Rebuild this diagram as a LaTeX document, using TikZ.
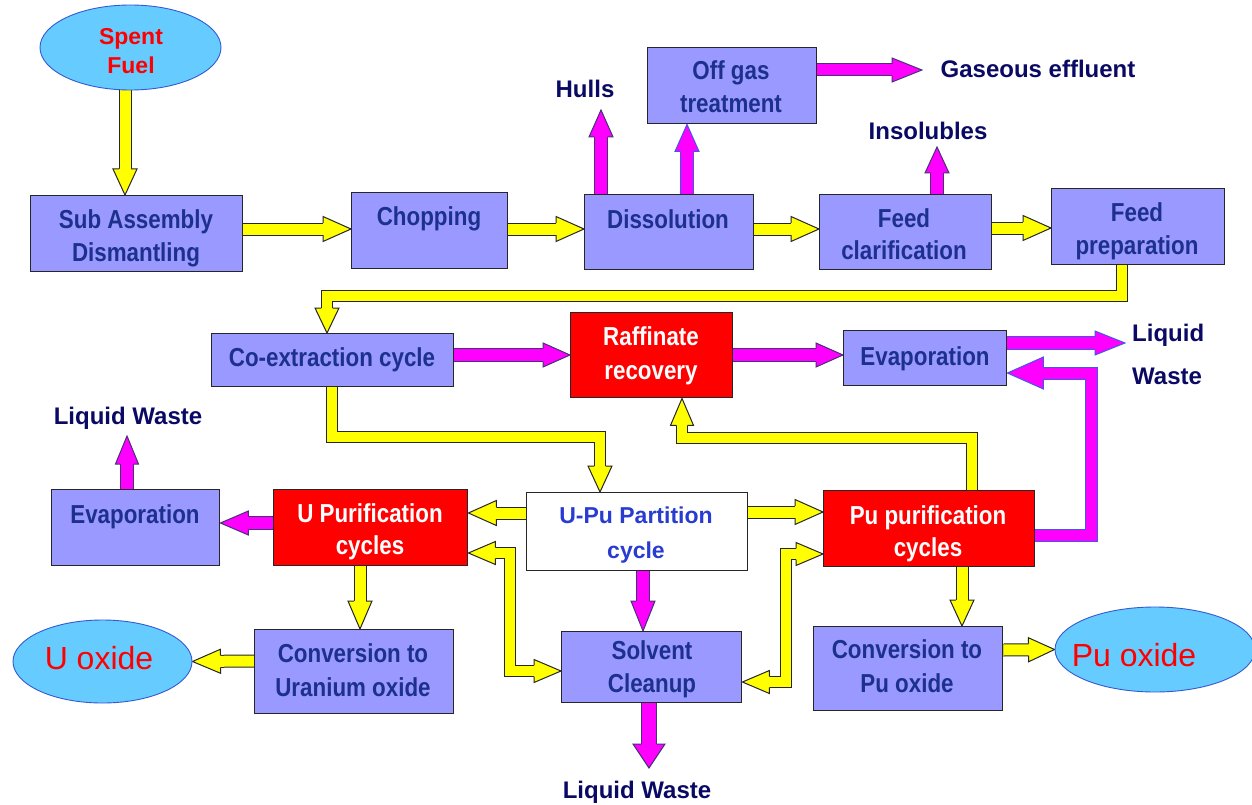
\documentclass[tikz,border=0pt]{standalone}
\usepackage{fontspec}
\setmainfont{Liberation Sans}
\newfontfamily\nar[FakeStretch=0.86]{Liberation Sans}
\usetikzlibrary{shapes.geometric,decorations.markings}
\definecolor{boxfill}{RGB}{153,153,255}
\definecolor{boxedge}{RGB}{38,38,38}
\definecolor{boxtext}{RGB}{28,48,140}
\definecolor{labtext}{RGB}{10,10,100}
\definecolor{uputext}{RGB}{40,60,210}
\definecolor{ellfill}{RGB}{102,204,255}
\definecolor{elledge}{RGB}{50,90,210}
\definecolor{ylw}{RGB}{255,255,0}
\definecolor{mgt}{RGB}{255,0,255}
\definecolor{mgedge}{RGB}{70,50,120}
\definecolor{mgblue}{RGB}{60,90,230}
\definecolor{redbox}{RGB}{255,0,0}
\pgfdeclarelayer{bg}
\pgfsetlayers{bg,main}

% head pointing along +x, apex at origin
\newcommand\bhead[4]{%
  \fill[#1] (0pt,0pt) -- (-#4pt,#3pt) -- (-#4pt,-#3pt) -- cycle;
  \draw[#2, line width=1pt, line join=miter] (-#4pt,\bhs pt) -- (-#4pt,#3pt) -- (0pt,0pt) -- (-#4pt,-#3pt) -- (-#4pt,-\bhs pt);}
% #1 fill, #2 edge, #3 shaft width, #4 half head width, #5 head length, #6 path
\newcommand\barrow[6]{%
  \pgfmathsetmacro\bwo{#3+2}%
  \pgfmathsetmacro\bsho{#5-2}%
  \pgfmathsetmacro\bshi{#5-3}%
  \pgfmathsetmacro\bhs{#3/2+0.6}%
  \draw[line width=\bwo pt, draw=#2, line join=miter, shorten >=\bsho pt] #6;
  \draw[line width=#3pt, draw=#1, line join=miter, shorten >=\bshi pt] #6;
  \path[decorate, decoration={markings, mark=at position 1 with {\bhead{#1}{#2}{#4}{#5}}}] #6;
}
\newcommand\dbarrow[6]{%
  \pgfmathsetmacro\bwo{#3+2}%
  \pgfmathsetmacro\bsho{#5-2}%
  \pgfmathsetmacro\bshi{#5-3}%
  \pgfmathsetmacro\bhs{#3/2+0.6}%
  \draw[line width=\bwo pt, draw=#2, line join=miter, shorten >=\bsho pt, shorten <=\bsho pt] #6;
  \draw[line width=#3pt, draw=#1, line join=miter, shorten >=\bshi pt, shorten <=\bshi pt] #6;
  \path[decorate, decoration={markings,
     mark=at position 0 with {\begin{scope}[xscale=-1]\bhead{#1}{#2}{#4}{#5}\end{scope}},
     mark=at position 1 with {\bhead{#1}{#2}{#4}{#5}}}] #6;
}
\newcommand\mkbox[6]{\node[#2, minimum width=#5pt-#3pt, minimum height=#6pt-#4pt] (#1) at (#3,#4) {};}

\begin{document}
\begin{tikzpicture}[x=1pt,y=-1pt,
  proc/.style={draw=boxedge, line width=1.4pt, fill=boxfill, rectangle, inner sep=0pt, anchor=north west},
  hot/.style={proc, fill=redbox},
  plain/.style={proc, fill=white},
  oval/.style={ellipse, draw=elledge, line width=0.9pt, fill=ellfill, inner sep=0pt},
  btxt/.style={text=boxtext, font=\nar\bfseries\fontsize{26}{33}\selectfont, align=center, inner sep=0pt},
  wtxt/.style={btxt, text=white},
  lab/.style={text=labtext, font=\bfseries\fontsize{24}{28}\selectfont, inner sep=0pt},
]
\useasboundingbox (0,0) rectangle (1252,805);
\begin{pgfonlayer}{bg}
\fill[white] (0,0) rectangle (1252,805);
\end{pgfonlayer}

% ellipses
\node[oval, minimum width=181pt, minimum height=85pt] (sf) at (130.5,47.5) {};
\node[oval, minimum width=179pt, minimum height=83pt] (uo) at (102.5,661.5) {};
\node[oval, minimum width=200pt, minimum height=85pt] (po) at (1155,649.5) {};

% boxes
\mkbox{sa}{proc}{30}{195}{242}{271}
\mkbox{ch}{proc}{351}{192}{507}{268}
\mkbox{di}{proc}{584}{194}{753}{269}
\mkbox{og}{proc}{647}{47}{816}{123}
\mkbox{fc}{proc}{819}{194}{991}{269}
\mkbox{fp}{proc}{1051}{188}{1224}{264}
\mkbox{co}{proc}{211}{333}{453}{386}
\mkbox{rr}{hot}{570}{312}{732}{397}
\mkbox{ev1}{proc}{843}{330}{1006}{385}
\mkbox{ev2}{proc}{51}{489}{219}{565}
\mkbox{upur}{hot}{273}{489}{467}{565}
\mkbox{upu}{plain}{526}{492}{747}{570}
\mkbox{ppur}{hot}{823}{490}{1034}{566}
\mkbox{sc}{proc}{561}{631}{741}{702}
\mkbox{cu}{proc}{254}{629}{453}{713}
\mkbox{cp}{proc}{813}{626}{1002}{710}

% texts
\node[align=center, text=red, font=\bfseries\fontsize{23}{29}\selectfont, inner sep=0pt] (sf-t) at (131,51.25) {Spent\\Fuel};
\node[anchor=base, text=red, font=\fontsize{32}{38}\selectfont, inner sep=0pt] (uo-t) at (99,669) {U oxide};
\node[anchor=base, text=red, font=\fontsize{32}{38}\selectfont, inner sep=0pt] (po-t) at (1134,666) {Pu oxide};
\node[btxt] (sa-t) at (136,238.75) {Sub Assembly\\Dismantling};
\node[btxt, anchor=base] (ch-t) at (429,225) {Chopping};
\node[btxt, anchor=base] (di-t) at (668,228) {Dissolution};
\node[btxt] (og-t) at (731,87) {Off gas\\treatment};
\node[btxt, font=\nar\bfseries\fontsize{26}{32}\selectfont] (fc-t) at (904,234.5) {Feed\\clarification};
\node[btxt] (fp-t) at (1137,231.75) {Feed\\preparation};
\node[btxt, anchor=base] (co-t) at (332,366) {Co-extraction cycle};
\node[wtxt, font=\nar\bfseries\fontsize{26}{34}\selectfont] (rr-t) at (651,356.25) {Raffinate\\recovery};
\node[btxt, anchor=base] (ev1-t) at (925,365) {Evaporation};
\node[btxt, anchor=base] (ev2-t) at (135,523) {Evaporation};
\node[wtxt, font=\nar\bfseries\fontsize{26}{32}\selectfont] (upur-t) at (370,532.25) {U Purification\\cycles};
\node[align=center, text=uputext, font=\bfseries\fontsize{23}{35}\selectfont, inner sep=0pt] (upu-t) at (636,534.65) {U-Pu Partition\\cycle};
\node[wtxt, font=\nar\bfseries\fontsize{26}{32}\selectfont] (ppur-t) at (928,534.25) {Pu purification\\cycles};
\node[btxt] (sc-t) at (652,669.75) {Solvent\\Cleanup};
\node[btxt, font=\nar\bfseries\fontsize{26}{34}\selectfont] (cu-t) at (353,670.5) {Conversion to\\Uranium oxide};
\node[btxt, font=\nar\bfseries\fontsize{26}{34}\selectfont] (cp-t) at (907,666.5) {Conversion to\\Pu oxide};

% labels
\node[lab, anchor=base] (hulls) at (585,98) {Hulls};
\node[lab, anchor=base] (gas) at (1038,78) {Gaseous effluent};
\node[lab, anchor=base] (insol) at (928,140) {Insolubles};
\node[lab, anchor=west, align=left, font=\bfseries\fontsize{24}{43}\selectfont] (lwr) at (1132,354.75) {Liquid\\Waste};
\node[lab, anchor=base] (lwl) at (128,424) {Liquid Waste};
\node[lab, anchor=base] (lwb) at (637,798) {Liquid Waste};

% free ends
\coordinate (hullsend) at (601,110);
\coordinate (gasend) at (922,70);
\coordinate (insend) at (937,147);
\coordinate (lwrend) at (1125,343);
\coordinate (lwlend) at (127,436);
\coordinate (lwbend) at (649,768);

\begin{pgfonlayer}{bg}
% yellow flows
\barrow{ylw}{boxedge}{11}{12}{26}{(125,0 |- sf.south) -- (125,0 |- sa.north)}
\barrow{ylw}{boxedge}{11}{12.5}{28}{(sa.east |- 0,229) -- (ch.west |- 0,229)}
\barrow{ylw}{boxedge}{11}{12.5}{28}{(ch.east |- 0,229) -- (di.west |- 0,229)}
\barrow{ylw}{boxedge}{11}{12.5}{28}{(di.east |- 0,229) -- (fc.west |- 0,229)}
\barrow{ylw}{boxedge}{11}{12.5}{28}{(fc.east |- 0,228) -- (fp.west |- 0,228)}
\barrow{ylw}{boxedge}{10}{12}{25}{(1122,0 |- fp.south) -- (1122,296) -- (327,296) -- (327,0 |- co.north)}
\barrow{ylw}{boxedge}{10}{12}{26}{(332,0 |- co.south) -- (332,437) -- (600,437) -- (600,0 |- upu.north)}
\barrow{ylw}{boxedge}{10}{11.5}{27}{(972,0 |- ppur.north) -- (972,438) -- (682,438) -- (682,0 |- rr.south)}
\barrow{ylw}{boxedge}{11}{12.5}{28}{(upu.west |- 0,513) -- (upur.east |- 0,513)}
\barrow{ylw}{boxedge}{11}{12.5}{28}{(upu.east |- 0,512) -- (ppur.west |- 0,512)}
\dbarrow{ylw}{boxedge}{10}{11.5}{27}{(upur.east |- 0,553) -- (510,553) -- (510,671) -- (sc.west |- 0,671)}
\dbarrow{ylw}{boxedge}{10}{11.5}{27}{(ppur.west |- 0,554) -- (786,554) -- (786,682) -- (sc.east |- 0,682)}
\barrow{ylw}{boxedge}{11}{12}{28}{(360,0 |- upur.south) -- (360,0 |- cu.north)}
\barrow{ylw}{boxedge}{11}{12}{28}{(cu.west |- 0,661) -- (uo.east)}
\barrow{ylw}{boxedge}{11}{12}{26}{(962,0 |- ppur.south) -- (962,0 |- cp.north)}
\barrow{ylw}{boxedge}{11}{12}{26}{(cp.east |- 0,650) -- (po.west)}
% magenta flows
\barrow{mgt}{mgedge}{12}{12}{27}{(601,0 |- di.north) -- (hullsend)}
\barrow{mgt}{mgblue}{12}{12}{27}{(687,0 |- di.north) -- (687,0 |- og.south)}
\barrow{mgt}{mgedge}{11}{12}{30}{(og.east |- 0,70) -- (gasend)}
\barrow{mgt}{mgedge}{12}{12}{26}{(937,0 |- fc.north) -- (insend)}
\barrow{mgt}{mgedge}{12}{12}{27}{(co.east |- 0,355) -- (rr.west |- 0,355)}
\barrow{mgt}{mgedge}{12}{12}{27}{(rr.east |- 0,355) -- (ev1.west |- 0,355)}
\barrow{mgt}{mgblue}{12}{12}{30}{(ev1.east |- 0,343) -- (lwrend)}
\barrow{mgt}{mgblue}{11}{16}{36}{(ppur.east |- 0,535) -- (1091,535) -- (1091,373) -- (ev1.east |- 0,373)}
\barrow{mgt}{mgedge}{12}{12}{30}{(643,0 |- upu.south) -- (643,0 |- sc.north)}
\barrow{mgt}{mgedge}{14}{16}{24}{(649,0 |- sc.south) -- (lwbend)}
\barrow{mgt}{mgedge}{12}{12}{28}{(upur.west |- 0,523) -- (ev2.east |- 0,523)}
\barrow{mgt}{mgedge}{12}{11.5}{28}{(127,0 |- ev2.north) -- (lwlend)}
\end{pgfonlayer}
\end{tikzpicture}
\end{document}
